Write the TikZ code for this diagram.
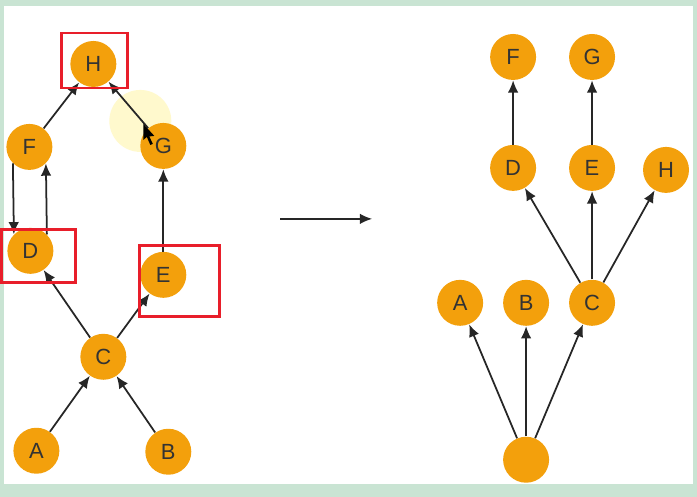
\documentclass[tikz,border=0pt]{standalone}
\usepackage{fontspec}
\setmainfont{Liberation Sans}
\usetikzlibrary{arrows.meta}

\definecolor{laranja}{RGB}{243,160,12}
\definecolor{verdefundo}{RGB}{201,228,211}
\definecolor{vermelho}{RGB}{232,30,42}
\definecolor{brilho}{RGB}{255,249,205}

\begin{document}
\begin{tikzpicture}[x=0.02cm, y=-0.02cm,
    vertice/.style={circle, fill=laranja, minimum size=0.92cm, inner sep=0pt,
        text=black!80, font=\fontsize{12.5}{12.5}\selectfont},
    aresta/.style={-{Latex[length=7pt, width=6pt]}, line width=1pt, black!85},
    caixa/.style={draw=vermelho, line width=1.6pt}]

    % Fundo
    \fill[verdefundo] (0,0) rectangle (697,497);
    \fill[white] (4,6) rectangle (693,484);

    % Brilho do cursor
    \fill[brilho] (140,121) circle (31);

    % Grafo da esquerda
    \node[vertice] (lH) at (93,64) {H};
    \node[vertice] (lF) at (29,147) {F};
    \node[vertice] (lG) at (163,146) {G};
    \node[vertice] (lD) at (30,251) {D};
    \node[vertice] (lE) at (163,275) {E};
    \node[vertice] (lC) at (103,357) {C};
    \node[vertice] (lA) at (36,451) {A};
    \node[vertice] (lB) at (168,452) {B};

    \draw[aresta] (lF) -- (lH);
    \draw[aresta] (lG) -- (lH);
    \draw[aresta] (lF.225) -- (lD.135);
    \draw[aresta] (lD.45) -- (lF.-45);
    \draw[aresta] (lC) -- (lD);
    \draw[aresta] (lC) -- (lE);
    \draw[aresta] (lE) -- (lG);
    \draw[aresta] (lA) -- (lC);
    \draw[aresta] (lB) -- (lC);

    % Destaques
    \draw[caixa] (61,33) rectangle (127,88);
    \draw[caixa] (1,230) rectangle (75,283);
    \draw[caixa] (139,246) rectangle (219,317);

    % Cursor
    \fill[black] (143,124) -- (143,140) -- (146.5,137) -- (150,145) -- (152.5,144) -- (149,136.5) -- (154,136) -- cycle;

    % Seta do meio
    \coordinate (ini) at (280,219);
    \coordinate (fim) at (372,219);
    \draw[aresta] (ini) -- (fim);

    % Grafo da direita
    \node[vertice] (rF) at (513,57) {F};
    \node[vertice] (rG) at (592,57) {G};
    \node[vertice] (rD) at (513,168) {D};
    \node[vertice] (rE) at (592,168) {E};
    \node[vertice] (rH) at (666,170) {H};
    \node[vertice] (rA) at (460,303) {A};
    \node[vertice] (rB) at (526,303) {B};
    \node[vertice] (rC) at (592,303) {C};
    \node[vertice] (raiz) at (526,460) {};

    \draw[aresta] (rD) -- (rF);
    \draw[aresta] (rE) -- (rG);
    \draw[aresta] (rC) -- (rD);
    \draw[aresta] (rC) -- (rE);
    \draw[aresta] (rC) -- (rH);
    \draw[aresta] (raiz) -- (rA);
    \draw[aresta] (raiz) -- (rB);
    \draw[aresta] (raiz) -- (rC);

\end{tikzpicture}
\end{document}
